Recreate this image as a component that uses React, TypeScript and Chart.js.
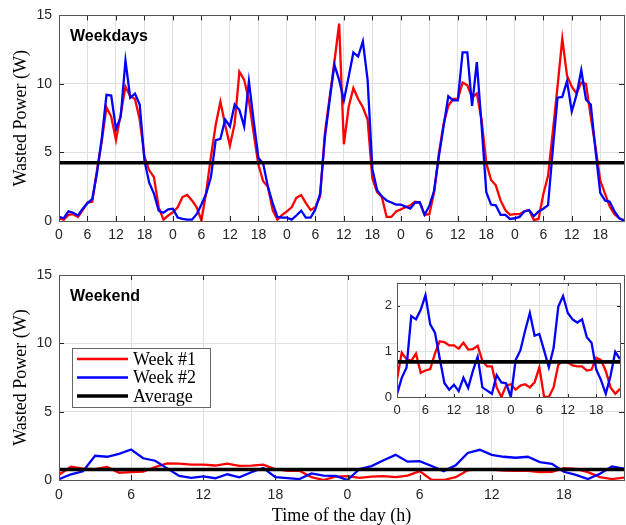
import React, { useEffect, useRef } from "react";
import { Chart, registerables } from "chart.js";

Chart.register(...registerables);

// ---------------- data ----------------
const weekdayWeek1 = [
  0.2, 0.1, 0.45, 0.5, 0.3, 0.8, 1.35, 1.4, 3.7, 5.8, 8.3, 7.6, 5.9, 7.8, 9.8, 9.1, 8.9, 7.4, 4.7, 3.7, 3.2, 1.0, 0.1, 0.4,
  0.65, 1.0, 1.75, 1.9, 1.5, 1.0, 0.05, 2.1, 4.7, 7.0, 8.7, 7.0, 5.5, 7.1, 10.9, 10.3, 8.8, 6.4, 4.1, 2.9, 2.5, 0.8, 0.1, 0.45,
  0.7, 1.0, 1.7, 1.9, 1.3, 0.8, 1.0, 1.8, 6.4, 9.0, 11.6, 14.4, 5.6, 8.3, 9.7, 8.9, 8.3, 7.4, 3.1, 2.1, 1.75, 0.3, 0.3, 0.7,
  0.85, 1.0, 1.15, 1.4, 1.35, 0.45, 0.5, 2.1, 4.9, 7.1, 8.4, 8.9, 8.9, 10.1, 9.9, 9.0, 9.3, 7.4, 4.2, 3.0, 2.6, 1.5, 0.8, 0.45,
  0.5, 0.5, 0.7, 0.8, 0.07, 0.15, 1.95, 3.3, 6.5, 9.8, 13.3, 10.6, 9.8, 9.3, 10.1, 10.0, 7.6, 5.4, 2.95, 2.0, 1.05, 0.5, 0.2, 0.08,
];
const weekdayWeek2 = [
  0.3, 0.2, 0.7, 0.6, 0.4, 0.9, 1.3, 1.6, 3.5, 6.0, 9.2, 9.15, 6.7, 7.6, 11.7, 9.0, 9.3, 8.5, 4.4, 2.8, 2.0, 0.75, 0.6, 0.85,
  0.9, 0.25, 0.15, 0.1, 0.1, 0.5, 1.2, 2.0, 3.2, 5.9, 6.0, 7.4, 6.9, 8.5, 8.1, 6.9, 10.2, 7.3, 4.6, 4.2, 2.5, 1.3, 0.3, 0.25,
  0.25, 0.1, 0.4, 0.75, 0.25, 0.25, 0.85, 2.0, 6.1, 8.8, 11.4, 10.3, 8.8, 10.5, 12.3, 12.0, 13.1, 10.3, 3.8, 2.25, 1.8, 1.5, 1.35, 1.2,
  1.2, 1.05, 0.9, 1.35, 1.35, 0.45, 1.1, 2.2, 4.7, 6.9, 9.1, 8.8, 8.8, 12.3, 12.3, 8.4, 11.6, 7.0, 2.1, 1.2, 1.15, 0.45, 0.45, 0.15,
  0.2, 0.3, 0.7, 0.8, 0.35, 0.7, 0.9, 1.15, 5.2, 9.0, 9.05, 10.2, 8.0, 9.2, 11.0, 8.85, 8.5, 5.15, 2.05, 1.5, 1.4, 0.7, 0.2, 0.02,
];
const weekdayAverage = 4.25;

const weekendWeek1 = [
  0.39, 0.97, 0.83, 0.79, 0.95, 0.53, 0.58, 0.61, 0.95, 1.22, 1.2, 1.13, 1.13, 1.06, 1.19, 1.04, 1.05, 1.12, 0.79, 0.67, 0.67, 0.21, 0.0, 0.25,
  0.28, 0.16, 0.25, 0.28, 0.21, 0.32, 0.65, 0.0, 0.0, 0.21, 0.71, 0.79, 0.76, 0.69, 0.67, 0.67, 0.58, 0.6, 0.86, 0.81, 0.57, 0.21, 0.07, 0.18,
];
const weekendWeek2 = [
  0.06, 0.42, 0.64, 1.77, 1.7, 1.91, 2.23, 1.59, 1.41, 0.85, 0.3, 0.16, 0.27, 0.13, 0.42, 0.2, 0.57, 0.88, 0.21, 0.14, 0.07, 0.48, 0.32, 0.3,
  0.0, 0.81, 1.02, 1.45, 1.84, 1.34, 1.38, 1.02, 0.65, 1.07, 1.98, 2.21, 1.84, 1.7, 1.63, 1.7, 1.31, 1.19, 0.6, 0.37, 0.07, 0.46, 0.99, 0.83,
];
const weekendAverage = 0.77;

const weekdayHourTicks = [0, 6, 12, 18, 24, 30, 36, 42, 48, 54, 60, 66, 72, 78, 84, 90, 96, 102, 108, 114];
const weekendHourTicks = [0, 6, 12, 18, 24, 30, 36, 42];
const powerTicks = [0, 5, 10, 15];
const insetPowerTicks = [0, 1, 2];
const seriesLabels = ["Week #1", "Week #2", "Average"];
const panelTitles = ["Weekdays", "Weekend"];
const yAxisTitle = "Wasted Power (W)";
const xAxisTitle = "Time of the day (h)";

// ---------------- styling ----------------
const SANS = "'Liberation Sans', Arial, sans-serif";
const SERIF = "'Liberation Serif', 'Times New Roman', serif";
const AXIS_COLOR = "#262626";
const GRID_COLOR = "#e0e0e0";
const BOX_COLOR = "#555555";

const hourLabel = (v: number) => String(Math.round(v) % 24);

function framePlugin(tickLen: number, whiteBg: boolean) {
  return {
    id: "frame",
    beforeDraw(chart: any) {
      if (!whiteBg) return;
      const { ctx, chartArea: a } = chart;
      ctx.save();
      ctx.fillStyle = "#ffffff";
      ctx.fillRect(a.left, a.top, a.right - a.left, a.bottom - a.top);
      ctx.restore();
    },
    afterDatasetsDraw(chart: any) {
      const { ctx, chartArea: a, scales } = chart;
      ctx.save();
      ctx.strokeStyle = AXIS_COLOR;
      ctx.lineWidth = 1;
      ctx.beginPath();
      for (const t of scales.x.ticks) {
        const px = Math.round(scales.x.getPixelForValue(t.value)) + 0.5;
        ctx.moveTo(px, a.bottom);
        ctx.lineTo(px, a.bottom - tickLen);
        ctx.moveTo(px, a.top);
        ctx.lineTo(px, a.top + tickLen);
      }
      for (const t of scales.y.ticks) {
        const py = Math.round(scales.y.getPixelForValue(t.value)) + 0.5;
        ctx.moveTo(a.left, py);
        ctx.lineTo(a.left + tickLen, py);
        ctx.moveTo(a.right, py);
        ctx.lineTo(a.right - tickLen, py);
      }
      ctx.stroke();
      ctx.strokeStyle = BOX_COLOR;
      ctx.strokeRect(
        Math.round(a.left) + 0.5,
        Math.round(a.top) + 0.5,
        Math.round(a.right - a.left),
        Math.round(a.bottom - a.top)
      );
      ctx.restore();
    },
  };
}

function panelTitlePlugin(text: string) {
  return {
    id: "panelTitle",
    afterDraw(chart: any) {
      const { ctx, chartArea: a } = chart;
      ctx.save();
      ctx.font = `bold 16px ${SANS}`;
      ctx.fillStyle = "#000000";
      ctx.textAlign = "left";
      ctx.textBaseline = "alphabetic";
      ctx.fillText(text, a.left + 11, a.top + 26);
      ctx.restore();
    },
  };
}

const legendPlugin = {
  id: "boxLegend",
  afterDraw(chart: any) {
    const { ctx, chartArea: a } = chart;
    const x0 = a.left + 13;
    const y0 = a.top + 73;
    const w = 138;
    const h = 59;
    ctx.save();
    ctx.fillStyle = "#ffffff";
    ctx.fillRect(x0, y0, w, h);
    ctx.strokeStyle = "#666666";
    ctx.lineWidth = 1;
    ctx.strokeRect(Math.round(x0) + 0.5, Math.round(y0) + 0.5, w, h);
    ctx.font = `18px ${SERIF}`;
    ctx.textBaseline = "middle";
    ctx.textAlign = "left";
    chart.data.datasets.forEach((ds: any, i: number) => {
      const cy = y0 + 11 + i * 18.5;
      ctx.strokeStyle = ds.borderColor;
      ctx.lineWidth = ds.borderWidth;
      ctx.beginPath();
      ctx.moveTo(x0 + 5, cy);
      ctx.lineTo(x0 + 56, cy);
      ctx.stroke();
      ctx.fillStyle = "#000000";
      ctx.fillText(ds.label, x0 + 61, cy + 1);
    });
    ctx.restore();
  },
};

interface PanelSpec {
  week1: number[];
  week2: number[];
  average: number;
  xMax: number;
  xTicks: number[];
  yMax: number;
  yTicks: number[];
  yWidth: number;
  xHeight: number;
  padding: { left: number; right: number; top: number; bottom: number };
  tickFontSize: number;
  xTickPadding: number;
  yTickPadding: number;
  lineWidth: number;
  avgWidth: number;
  showYTitle: boolean;
  showXTitle: boolean;
  plugins: any[];
}

function buildConfig(p: PanelSpec): any {
  const series = (vals: number[]) => vals.map((y, i) => ({ x: i, y }));
  return {
    type: "line",
    data: {
      datasets: [
        {
          label: seriesLabels[0],
          data: series(p.week1),
          borderColor: "#ff0000",
          borderWidth: p.lineWidth,
          pointRadius: 0,
          tension: 0,
          order: 2,
        },
        {
          label: seriesLabels[1],
          data: series(p.week2),
          borderColor: "#0000ff",
          borderWidth: p.lineWidth,
          pointRadius: 0,
          tension: 0,
          order: 1,
        },
        {
          label: seriesLabels[2],
          data: [
            { x: 0, y: p.average },
            { x: p.xMax, y: p.average },
          ],
          borderColor: "#000000",
          borderWidth: p.avgWidth,
          pointRadius: 0,
          tension: 0,
          order: 0,
        },
      ],
    },
    options: {
      animation: false,
      responsive: false,
      devicePixelRatio: 1,
      events: [],
      layout: { padding: p.padding },
      plugins: { legend: { display: false }, tooltip: { enabled: false }, title: { display: false } },
      scales: {
        x: {
          type: "linear",
          min: 0,
          max: p.xMax,
          afterBuildTicks: (s: any) => {
            s.ticks = p.xTicks.map((value) => ({ value }));
          },
          afterFit: (s: any) => {
            s.height = p.xHeight;
          },
          ticks: {
            autoSkip: false,
            maxRotation: 0,
            padding: p.xTickPadding,
            color: AXIS_COLOR,
            font: { family: SANS, size: p.tickFontSize },
            callback: (v: number) => hourLabel(v),
          },
          grid: { color: GRID_COLOR, drawTicks: false, lineWidth: 1 },
          border: { display: false },
          title: {
            display: p.showXTitle,
            text: xAxisTitle,
            color: "#000000",
            font: { family: SERIF, size: 18 },
            padding: { top: 0, bottom: 3 },
          },
        },
        y: {
          type: "linear",
          min: 0,
          max: p.yMax,
          afterBuildTicks: (s: any) => {
            s.ticks = p.yTicks.map((value) => ({ value }));
          },
          afterFit: (s: any) => {
            s.width = p.yWidth;
          },
          ticks: {
            padding: p.yTickPadding,
            color: AXIS_COLOR,
            font: { family: SANS, size: p.tickFontSize },
            callback: (v: number) => String(v),
          },
          grid: { color: GRID_COLOR, drawTicks: false, lineWidth: 1 },
          border: { display: false },
          title: {
            display: p.showYTitle,
            text: yAxisTitle,
            color: "#000000",
            font: { family: SERIF, size: 18 },
            padding: { top: 10, bottom: 0 },
          },
        },
      },
    },
    plugins: p.plugins,
  };
}

function ChartCanvas(props: { left: number; top: number; width: number; height: number; spec: PanelSpec }) {
  const ref = useRef<HTMLCanvasElement | null>(null);
  useEffect(() => {
    if (!ref.current) return;
    const chart = new Chart(ref.current, buildConfig(props.spec));
    return () => chart.destroy();
  }, []);
  return (
    <canvas
      ref={ref}
      width={props.width}
      height={props.height}
      style={{
        position: "absolute",
        left: props.left,
        top: props.top,
        width: props.width,
        height: props.height,
      }}
    />
  );
}

export default function App() {
  const topSpec: PanelSpec = {
    week1: weekdayWeek1,
    week2: weekdayWeek2,
    average: weekdayAverage,
    xMax: 119,
    xTicks: weekdayHourTicks,
    yMax: 15,
    yTicks: powerTicks,
    yWidth: 59,
    xHeight: 29,
    padding: { left: 0, right: 2, top: 15, bottom: 0 },
    tickFontSize: 14,
    xTickPadding: 6,
    yTickPadding: 7,
    lineWidth: 2.3,
    avgWidth: 3.6,
    showYTitle: true,
    showXTitle: false,
    plugins: [framePlugin(5, false), panelTitlePlugin(panelTitles[0])],
  };
  const bottomSpec: PanelSpec = {
    week1: weekendWeek1,
    week2: weekendWeek2,
    average: weekendAverage,
    xMax: 47,
    xTicks: weekendHourTicks,
    yMax: 15,
    yTicks: powerTicks,
    yWidth: 59,
    xHeight: 50,
    padding: { left: 0, right: 2, top: 25, bottom: 0 },
    tickFontSize: 14,
    xTickPadding: 7,
    yTickPadding: 7,
    lineWidth: 2.3,
    avgWidth: 3.6,
    showYTitle: true,
    showXTitle: true,
    plugins: [framePlugin(5, false), panelTitlePlugin(panelTitles[1]), legendPlugin],
  };
  const insetSpec: PanelSpec = {
    week1: weekendWeek1,
    week2: weekendWeek2,
    average: weekendAverage,
    xMax: 47,
    xTicks: weekendHourTicks,
    yMax: 2.5,
    yTicks: insetPowerTicks,
    yWidth: 57,
    xHeight: 23,
    padding: { left: 0, right: 6, top: 7, bottom: 0 },
    tickFontSize: 13,
    xTickPadding: 6,
    yTickPadding: 5,
    lineWidth: 2.3,
    avgWidth: 3.6,
    showYTitle: false,
    showXTitle: false,
    plugins: [framePlugin(3, true)],
  };
  return (
    <div
      style={{
        position: "absolute",
        left: 0,
        top: 0,
        width: 626,
        height: 525,
        overflow: "hidden",
        background: "#ffffff",
      }}
    >
      <ChartCanvas left={0} top={0} width={626} height={250} spec={topSpec} />
      <ChartCanvas left={0} top={250} width={626} height={280} spec={bottomSpec} />
      <ChartCanvas left={340} top={270} width={286} height={150} spec={insetSpec} />
    </div>
  );
}
